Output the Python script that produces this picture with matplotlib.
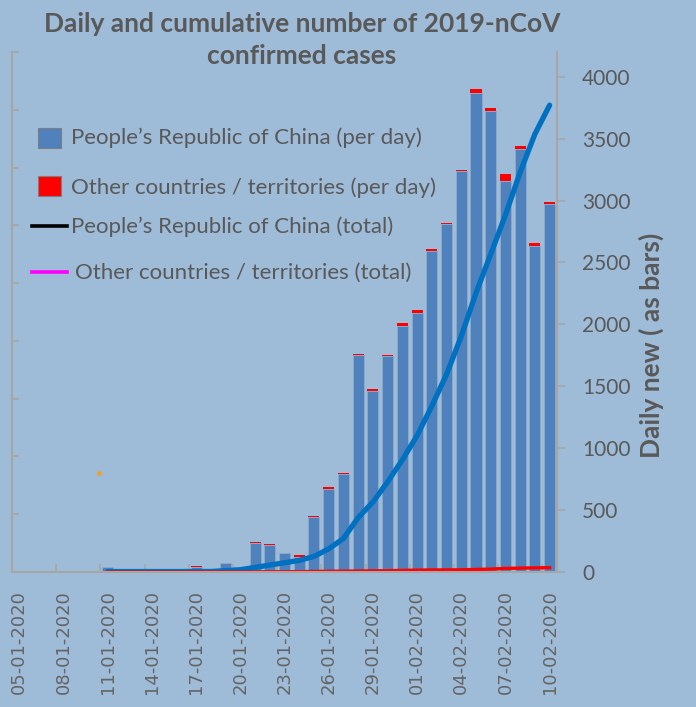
import numpy as np
import pandas as pd
import matplotlib
matplotlib.use("Agg")
import matplotlib.pyplot as plt
from matplotlib.patches import Rectangle
from matplotlib.lines import Line2D

# Categories: one bar per day
dates = pd.date_range("2020-01-05", "2020-02-10")
date_labels = [d.strftime("%d-%m-%Y") for d in dates]

# Daily new cases (right axis, bars)
china_daily = [0, 0, 0, 0, 0, 0, 41, 0, 0, 0, 0, 0, 40, 0, 75, 0,
               236, 216, 150, 120, 444, 669, 790, 1750, 1465, 1742, 1987,
               2094, 2589, 2810, 3240, 3865, 3723, 3156, 3414, 2637, 2970]
other_daily = [0, 0, 0, 0, 0, 0, 0, 0, 0, 0, 0, 0, 5, 0, 0, 0,
               6, 7, 3, 14, 10, 16, 8, 14, 16, 14, 24,
               24, 16, 5, 5, 35, 27, 62, 27, 19, 19]

# Cumulative totals (left axis, lines), from 11-01-2020 on
total_start = 6
china_total = [41, 41, 41, 41, 41, 41, 45, 45, 120, 200, 400, 600, 800, 1000,
               1350, 2000, 2900, 4700, 6050, 7800, 9700, 11800, 14350, 17100,
               20400, 24150, 27500, 30900, 34600, 37900, 40400]
other_total = [0, 0, 0, 0, 0, 0, 5, 5, 5, 5, 11, 18, 21, 35, 45, 61, 69, 83,
               99, 113, 137, 161, 177, 182, 187, 222, 249, 311, 338, 357, 376]

bg = "#9ebbd8"
txt = "#595959"
grey = "#a6a6a6"

fig = plt.figure(figsize=(6.96, 7.07), dpi=100, facecolor=bg)
W, H = 696, 707
ax = fig.add_axes([12 / W, 1 - 572 / H, (557 - 12) / W, (572 - 52) / H])
ax2 = ax.twinx()
ax.set_zorder(ax2.get_zorder() + 1)
ax.patch.set_visible(False)
ax2.patch.set_visible(False)

x = np.arange(len(dates))

# bars on the right axis
ax2.bar(x, china_daily, width=0.75, color="#4f81bd", edgecolor="#8eaacb", linewidth=0.6)
ax2.bar(x, other_daily, width=0.75, bottom=china_daily, color="#ff0000", linewidth=0)
ax2.set_ylim(0, 4200)
ax2.set_yticks(np.arange(0, 4001, 500))
ax2.tick_params(axis="y", direction="out", length=6, width=1.2, color=grey,
                labelsize=15, labelcolor=txt, pad=12)
for lab in ax2.get_yticklabels():
    lab.set_fontfamily("Lato")
ax2.set_ylabel("Daily new ( as bars)", fontsize=19, fontweight="bold",
               color=txt, family="Lato", labelpad=4)
ax2.yaxis.set_label_coords(1.15, 0.435)
for s in ["top", "left", "bottom"]:
    ax2.spines[s].set_visible(False)
ax2.spines["right"].set_color(grey)
ax2.spines["right"].set_linewidth(1.5)

# cumulative lines on the left axis
xt = x[total_start:]
ax.plot(xt, china_total, color="#0070c0", lw=3.8, solid_capstyle="round")
ax.plot(xt, other_total, color="#ff0000", lw=2.4)
ax.set_ylim(0, 45000)
ax.set_yticks(np.arange(0, 45001, 5000))
ax.set_yticklabels([])
ax.tick_params(axis="y", direction="in", length=5, width=1.2, color=grey)
ax.set_xlim(-0.5, len(dates) - 0.5)
ax.set_xticks(x[::3])
ax.set_xticklabels(date_labels[::3], rotation=90, fontsize=13, color="#646464",
                   family="DejaVu Sans")
ax.set_xticks(np.arange(-0.5, len(dates), 3), minor=True)
ax.tick_params(axis="x", which="major", length=0, pad=13)
ax.tick_params(axis="x", which="minor", direction="in", length=6, width=1.2, color=grey)
for s in ["top", "right"]:
    ax.spines[s].set_visible(False)
for s in ["left", "bottom"]:
    ax.spines[s].set_color(grey)
    ax.spines[s].set_linewidth(1.5)

# title
fig.text(302 / W, 1 - 40 / H, "Daily and cumulative number of 2019-nCoV\nconfirmed cases",
         ha="center", va="center", fontsize=19, fontweight="bold", color=txt,
         family="Lato", linespacing=1.35)


# hand-made legend, as in the original
def fx(px):
    return px / W


def fy(py):
    return 1 - py / H


fig.add_artist(Rectangle((fx(38), fy(148)), 23 / W, 20 / H, transform=fig.transFigure,
                         facecolor="#4f81bd", edgecolor="#7f7f7f", lw=0.8))
fig.add_artist(Rectangle((fx(38), fy(196)), 23 / W, 20 / H, transform=fig.transFigure,
                         facecolor="#ff0000", edgecolor="#7f7f7f", lw=0.8))
fig.add_artist(Line2D([fx(32), fx(67)], [fy(226), fy(226)], transform=fig.transFigure,
                      color="black", lw=2.6))
fig.add_artist(Line2D([fx(32), fx(67)], [fy(272), fy(272)], transform=fig.transFigure,
                      color="#ff00ff", lw=2.6))
legend_items = [
    (71, 138, "People\u2019s Republic of China (per day)"),
    (71, 188, "Other countries / territories (per day)"),
    (71, 227, "People\u2019s Republic of China (total)"),
    (75, 273, "Other countries / territories (total)"),
]
for lx, ly, label in legend_items:
    fig.text(fx(lx), fy(ly), label, ha="left", va="center", fontsize=16,
             color=txt, family="Lato")

# small stray orange dot seen in the original picture
fig.add_artist(Line2D([fx(99)], [fy(473)], transform=fig.transFigure,
                      marker="o", ms=2.5, color="#f0a030", lw=0))

fig.savefig("out.png", dpi=100, facecolor=bg)
